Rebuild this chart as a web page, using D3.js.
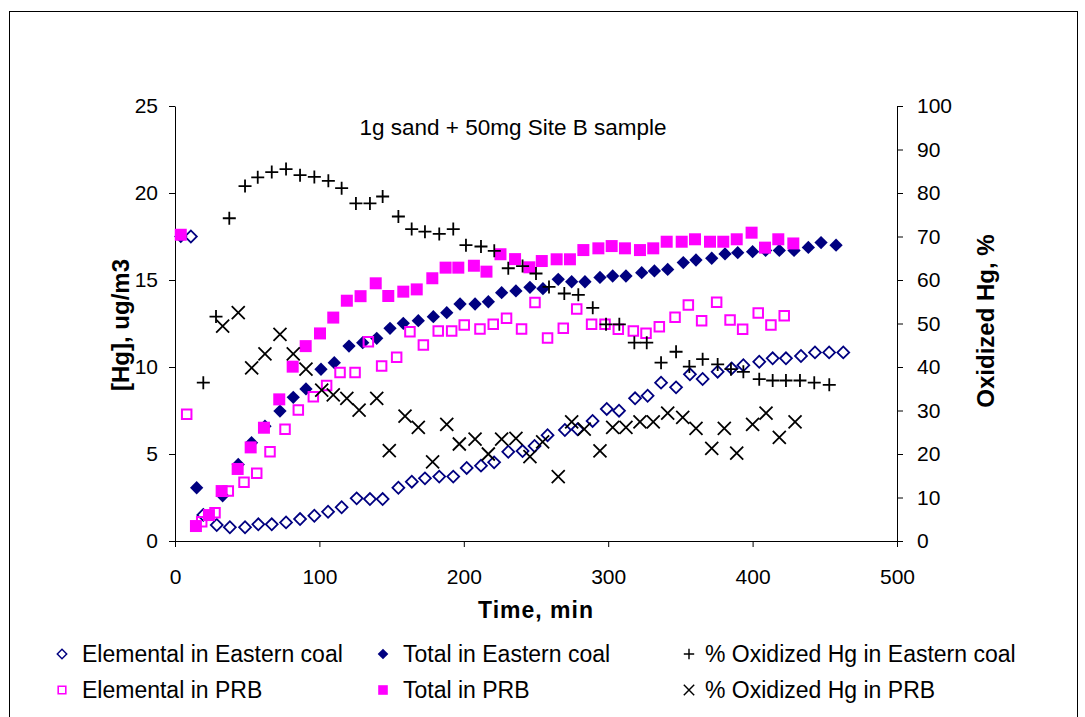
<!DOCTYPE html>
<html>
<head>
<meta charset="utf-8">
<script src="https://cdn.jsdelivr.net/npm/d3@7"></script>
<style>
  body { margin: 0; background: #fff; }
  svg { display: block; font-family: "Liberation Sans", Arial, sans-serif; }
</style>
</head>
<body>
<div id="chart"></div>
<script>
// time (min) and values
var elemEastT = [11, 19.6, 28.9, 38, 48.5, 57.7, 67, 76.9, 86.6, 96.5, 106, 115.4, 125.8, 135, 143.8, 154.7, 164, 173.1, 183, 192.7, 202, 211.9, 221, 230.8, 240.7, 249, 258, 270, 278.8, 289.2, 299, 307.5, 318.6, 327.3, 336.6, 347, 356.6, 365.4, 375.8, 385.5, 393.6, 404.6, 413.9, 423.1, 433.5, 443.2, 453, 462.8];
var elemEastV = [17.5, 1.5, 0.92, 0.79, 0.79, 0.96, 0.96, 1.07, 1.26, 1.45, 1.68, 1.94, 2.45, 2.41, 2.41, 3.06, 3.41, 3.6, 3.7, 3.7, 4.2, 4.33, 4.52, 5.13, 5.17, 5.46, 6.08, 6.38, 6.42, 6.9, 7.59, 7.49, 8.2, 8.35, 9.1, 8.83, 9.58, 9.31, 9.73, 9.92, 10.1, 10.3, 10.5, 10.5, 10.63, 10.84, 10.84, 10.84];

var totEastT = [4, 15, 33, 43.8, 53, 62.3, 72.7, 81.9, 90.7, 101.1, 110.3, 120.5, 130, 139.7, 148.9, 158.1, 168.5, 178.9, 188.2, 197.4, 207.8, 217, 226.2, 236.1, 245.8, 254.8, 265.4, 274.7, 283.9, 294.3, 303.1, 312.3, 323.2, 332, 341.2, 352, 360.8, 371.7, 380.9, 389.7, 400, 409, 418.5, 428.7, 438.6, 447.4, 457.8];
var totEastV = [17.5, 3.06, 2.6, 4.4, 5.65, 6.6, 7.47, 8.26, 8.74, 9.87, 10.25, 11.2, 11.4, 11.65, 12.22, 12.51, 12.66, 12.89, 13.12, 13.62, 13.62, 13.75, 14.27, 14.37, 14.58, 14.5, 15.04, 14.9, 14.9, 15.15, 15.23, 15.23, 15.42, 15.52, 15.61, 16.0, 16.15, 16.25, 16.5, 16.57, 16.63, 16.7, 16.7, 16.7, 16.87, 17.15, 17.0];

var elemPrbT = [8.1, 18.5, 27.7, 36.9, 47.8, 56.6, 65.8, 76.2, 85.4, 95.8, 105, 114.3, 124.7, 133.9, 143.1, 153.5, 162.7, 172, 182.3, 191.6, 200.3, 211.2, 220.4, 229.6, 240, 249.3, 258, 268.9, 278.2, 288.5, 297.8, 307, 317.4, 326.2, 335.4, 346.3, 355.5, 364.7, 375.1, 384.4, 393.1, 403.9, 412.7, 421.9];
var elemPrbV = [7.28, 1.11, 1.63, 2.87, 3.37, 3.89, 5.13, 6.42, 7.53, 8.29, 8.93, 9.69, 9.69, 11.45, 10.06, 10.56, 12.03, 11.26, 12.07, 12.07, 12.41, 12.18, 12.45, 12.8, 12.18, 13.7, 11.67, 12.22, 13.33, 12.45, 12.45, 12.17, 12.07, 11.94, 12.32, 12.86, 13.56, 12.66, 13.72, 12.7, 12.17, 13.1, 12.41, 12.95];

var totPrbT = [4, 14.5, 23.5, 32.3, 43.4, 52.4, 61.6, 72.2, 81.5, 90.5, 100.4, 109.6, 119, 128.5, 139, 147.7, 158.1, 167.4, 178.2, 187.4, 196.2, 207, 215.7, 225.4, 235.5, 245.4, 254, 264.3, 273.5, 282.8, 293.2, 302.4, 311.6, 322, 331.2, 340.5, 350.9, 360.1, 370.5, 379.7, 389, 399.3, 408.6, 417.8, 428.2];
var totPrbV = [17.6, 0.86, 1.49, 2.87, 4.14, 5.38, 6.51, 8.14, 10.02, 11.2, 11.93, 12.84, 13.81, 14.07, 14.81, 14.08, 14.33, 14.46, 15.1, 15.71, 15.71, 15.82, 15.48, 16.48, 16.2, 15.73, 16.09, 16.19, 16.19, 16.72, 16.82, 16.95, 16.82, 16.72, 16.82, 17.2, 17.2, 17.34, 17.2, 17.2, 17.34, 17.72, 16.86, 17.34, 17.1];

var oxEastT = [19.6, 28.4, 37.6, 48.5, 57.3, 67, 76.9, 86.6, 96.5, 106.2, 115.4, 125.3, 135, 143.8, 154.7, 163.9, 173.1, 183, 192.7, 201.5, 211.9, 221.1, 230.8, 240.7, 250, 259, 269.6, 279.3, 289.3, 298.5, 307.7, 318.1, 326.7, 336.6, 347, 356.2, 365.4, 375.8, 385, 393.6, 404.6, 413.9, 423.1, 432.8, 442.7, 453.1];
var oxEastV = [36.4, 51.6, 74.2, 81.6, 83.6, 84.8, 85.5, 84.1, 83.7, 82.8, 81.1, 77.6, 77.6, 79.2, 74.6, 71.7, 71.1, 70.6, 71.7, 68, 67.7, 66.7, 62.7, 63.2, 61.5, 58.4, 56.9, 56.6, 53.6, 49.8, 49.8, 45.6, 45.6, 41.0, 43.5, 40.1, 41.8, 40.6, 39.5, 38.9, 37.2, 36.9, 36.9, 36.9, 36.4, 35.9];

var oxPrbT = [33, 43.8, 53.1, 62.3, 72.7, 81.9, 90.7, 101.6, 109.6, 119, 127.5, 139.7, 148.4, 159.3, 168.5, 178.4, 188.2, 196.9, 207.8, 217, 226.2, 236.1, 245.8, 254.6, 265.4, 274.7, 283.4, 294.3, 303.1, 312.3, 322, 331.2, 341.2, 351.6, 360.8, 371.7, 380.4, 389, 400, 409.3, 418.5, 429.4];
var oxPrbV = [49.4, 52.5, 39.8, 43, 47.5, 43, 39.5, 34.7, 33.6, 32.8, 30.1, 32.8, 20.8, 28.7, 26.1, 18.2, 26.8, 22.3, 23.4, 20, 23.4, 23.6, 19.4, 22.8, 14.8, 27.4, 25.7, 20.7, 26.1, 26.1, 27.4, 27.4, 29.4, 28.4, 25.9, 21.3, 25.9, 20.2, 26.8, 29.4, 23.8, 27.4];

var leftTicks = [0, 5, 10, 15, 20, 25];
var rightTicks = [0, 10, 20, 30, 40, 50, 60, 70, 80, 90, 100];
var xTicks = [0, 100, 200, 300, 400, 500];

var chartTitle = "1g sand + 50mg Site B sample";
var xTitle = "Time, min";
var yTitle = "[Hg], ug/m3";
var y2Title = "Oxidized Hg, %";

var legendNames = ["Elemental in Eastern coal", "Total in Eastern coal", "% Oxidized Hg in Eastern coal",
                   "Elemental in PRB", "Total in PRB", "% Oxidized Hg in PRB"];

var w = 1085, h = 717;
var navy = "#000080", pink = "#FF00FF";

var svg = d3.select("#chart").append("svg")
  .attr("width", w).attr("height", h);

svg.append("rect").attr("width", w).attr("height", h).attr("fill", "#fff");
// outer chart border
svg.append("rect")
  .attr("x", 9.5).attr("y", 11.5).attr("width", 1068).attr("height", 730)
  .attr("fill", "none").attr("stroke", "#000").attr("stroke-width", 1);

var x = d3.scaleLinear().domain([0, 500]).range([175, 897]);
var y = d3.scaleLinear().domain([0, 25]).range([541, 106]);
var y2 = d3.scaleLinear().domain([0, 100]).range([541, 106]);

// axes
var fs = "21px";
var gx = svg.append("g").attr("transform", "translate(0,541)")
  .call(d3.axisBottom(x).tickValues(xTicks).tickSize(6).tickSizeOuter(0).tickPadding(22));
var gy = svg.append("g").attr("transform", "translate(175,0)")
  .call(d3.axisLeft(y).tickValues(leftTicks).tickSize(6).tickSizeOuter(0).tickPadding(11));
var gy2 = svg.append("g").attr("transform", "translate(897,0)")
  .call(d3.axisRight(y2).tickValues(rightTicks).tickSize(6).tickSizeOuter(0).tickPadding(14));
[gx, gy, gy2].forEach(function(g) {
  g.selectAll("text").attr("font-size", fs).attr("font-family", "Liberation Sans, Arial, sans-serif").attr("fill", "#000");
  g.selectAll("line,path").attr("stroke", "#000");
});

// marker shapes
var sq = function(s) { return d3.symbol(d3.symbolSquare, s * s)(); };
var shapes = {
  openDiamond:   { d: sq(8.4), rot: 45, fill: "none", stroke: navy, sw: 1.8 },
  filledDiamond: { d: sq(9.4), rot: 45, fill: navy, stroke: "none", sw: 0 },
  openSquare:    { d: sq(9.5), rot: 0, fill: "none", stroke: pink, sw: 2 },
  filledSquare:  { d: sq(12), rot: 0, fill: pink, stroke: "none", sw: 0 },
  plus:          { d: "M-6.5,0H6.5M0,-6.5V6.5", rot: 0, fill: "none", stroke: "#000", sw: 1.8 },
  cross:         { d: "M-6.5,-6.5L6.5,6.5M-6.5,6.5L6.5,-6.5", rot: 0, fill: "none", stroke: "#000", sw: 1.8 }
};

function plotSeries(ts, vs, scale, kind) {
  var s = shapes[kind];
  svg.append("g").selectAll("path")
    .data(d3.zip(ts, vs))
    .join("path")
    .attr("transform", function(d) { return "translate(" + x(d[0]) + "," + scale(d[1]) + ") rotate(" + s.rot + ")"; })
    .attr("d", s.d)
    .attr("fill", s.fill)
    .attr("stroke", s.stroke)
    .attr("stroke-width", s.sw);
}

plotSeries(elemEastT, elemEastV, y, "openDiamond");
plotSeries(totEastT, totEastV, y, "filledDiamond");
plotSeries(elemPrbT, elemPrbV, y, "openSquare");
plotSeries(totPrbT, totPrbV, y, "filledSquare");
plotSeries(oxEastT, oxEastV, y2, "plus");
plotSeries(oxPrbT, oxPrbV, y2, "cross");

// titles
svg.append("text").attr("x", 513).attr("y", 135).attr("text-anchor", "middle")
  .attr("font-size", "22.5px").text(chartTitle);
svg.append("text").attr("x", 536).attr("y", 618).attr("text-anchor", "middle")
  .attr("font-size", "23px").attr("font-weight", "bold").attr("letter-spacing", "1px").text(xTitle);
svg.append("text").attr("transform", "translate(129,325) rotate(-90)").attr("text-anchor", "middle")
  .attr("font-size", "24px").attr("font-weight", "bold").text(yTitle);
svg.append("text").attr("transform", "translate(994,321) rotate(-90)").attr("text-anchor", "middle")
  .attr("font-size", "24px").attr("font-weight", "bold").text(y2Title);

// legend
var legendKinds = ["openDiamond", "filledDiamond", "plus", "openSquare", "filledSquare", "cross"];
var legX = [62, 383, 689], legY = [654, 690];
var lg = svg.append("g").selectAll("g")
  .data(legendNames)
  .join("g")
  .attr("transform", function(d, i) { return "translate(" + legX[i % 3] + "," + legY[Math.floor(i / 3)] + ")"; });
lg.append("path")
  .attr("transform", function(d, i) { return "scale(0.8) rotate(" + shapes[legendKinds[i]].rot + ")"; })
  .attr("d", function(d, i) { return shapes[legendKinds[i]].d; })
  .attr("fill", function(d, i) { return shapes[legendKinds[i]].fill; })
  .attr("stroke", function(d, i) { return shapes[legendKinds[i]].stroke; })
  .attr("stroke-width", function(d, i) { return shapes[legendKinds[i]].sw; });
lg.append("text")
  .attr("x", function(d, i) { return i % 3 == 2 ? 16 : 20; })
  .attr("dy", "0.35em")
  .attr("font-size", "23px")
  .text(function(d) { return d; });
</script>
</body>
</html>
